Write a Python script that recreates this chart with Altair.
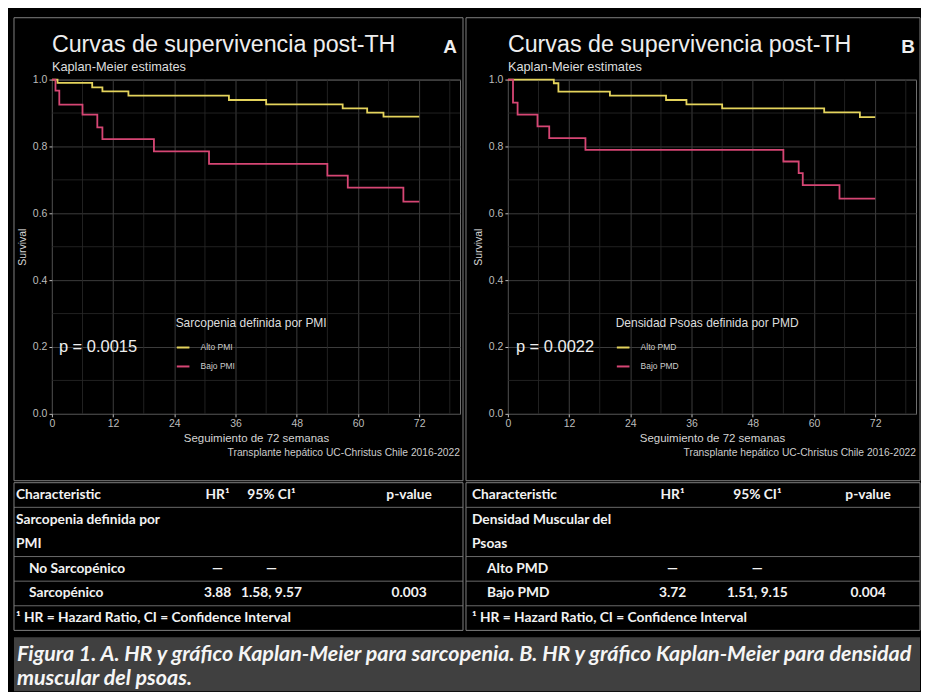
import altair as alt
import pandas as pd

# ---------------- data ----------------
week_ticks = [0, 12, 24, 36, 48, 60, 72]
week_minor = [6, 18, 30, 42, 54, 66, 78]
surv_ticks = [0.0, 0.2, 0.4, 0.6, 0.8, 1.0]
surv_minor = [0.1, 0.3, 0.5, 0.7, 0.9]

# Panel A: sarcopenia (PMI)
a_groups = ["Alto PMI", "Bajo PMI"]
a_alto_t = [0, 1.1, 7.9, 9.9, 15.0, 34.7, 42.0, 57.0, 61.8, 65.0, 72]
a_alto_s = [1.0, 0.990, 0.977, 0.965, 0.952, 0.939, 0.926, 0.914, 0.901, 0.889, 0.889]
a_bajo_t = [0, 0.7, 1.45, 6.0, 8.9, 9.9, 20.0, 30.8, 54.0, 58.0, 68.9, 72]
a_bajo_s = [1.0, 0.967, 0.925, 0.895, 0.857, 0.822, 0.785, 0.748, 0.713, 0.677, 0.635, 0.635]

# Panel B: densidad psoas (PMD)
b_groups = ["Alto PMD", "Bajo PMD"]
b_alto_t = [0, 9.0, 9.9, 20.0, 31.0, 35.0, 42.0, 62.0, 69.0, 72]
b_alto_s = [1.0, 0.989, 0.964, 0.952, 0.939, 0.926, 0.914, 0.902, 0.888, 0.888]
b_bajo_t = [0, 1.0, 1.9, 5.8, 8.1, 15.2, 54.0, 57.0, 57.8, 65.0, 72]
b_bajo_s = [1.0, 0.931, 0.895, 0.860, 0.825, 0.790, 0.755, 0.720, 0.684, 0.644, 0.644]

# tables
table_lines = ["h", "g1", "g2", "r1", "r2", "f"]
tab_a_char = ["Characteristic", "Sarcopenia definida por", "PMI", "No Sarcopénico", "Sarcopénico",
              "¹ HR = Hazard Ratio, CI = Confidence Interval"]
tab_a_hr = ["HR¹", "", "", "—", "3.88", ""]
tab_a_ci = ["95% CI¹", "", "", "—", "1.58, 9.57", ""]
tab_a_p = ["p-value", "", "", "", "0.003", ""]

tab_b_char = ["Characteristic", "Densidad Muscular del", "Psoas", "Alto PMD", "Bajo PMD",
              "¹ HR = Hazard Ratio, CI = Confidence Interval"]
tab_b_hr = ["HR¹", "", "", "—", "3.72", ""]
tab_b_ci = ["95% CI¹", "", "", "—", "1.51, 9.15", ""]
tab_b_p = ["p-value", "", "", "", "0.004", ""]

sep_lines = ["g1", "r1", "r2", "f"]

main_title = "Curvas de supervivencia post-TH"
sub_title = "Kaplan-Meier estimates"
x_title = "Seguimiento de 72 semanas"
y_title = "Survival"
source_note = "Transplante hepático UC-Christus Chile 2016-2022"
caption_text = ("Figura 1. A. HR y gráfico Kaplan-Meier para sarcopenia. B. HR y gráfico Kaplan-Meier para densidad\n"
                "muscular del psoas.")

# ---------------- style ----------------
YEL = "#E4D35C"
RED = "#D64674"
MAJOR = "#3c3c3c"
MINOR = "#2a2a2a"
BORDER = "#808080"
TXT = "#eeeeee"
LAB = "#bdbdbd"
PF = "Liberation Sans"
TF = "Lato"
CAPBG = "#404040"
W, H = 409, 335
TAB_H = 148


def km_frame(groups, t1, s1, t2, s2):
    rows = [{"t": t, "s": s, "g": groups[0]} for t, s in zip(t1, s1)]
    rows += [{"t": t, "s": s, "g": groups[1]} for t, s in zip(t2, s2)]
    return pd.DataFrame(rows)


def one(**kw):
    return pd.DataFrame({k: [v] for k, v in kw.items()})


def plot_panel(km, groups, legend_title, pval, letter, lay):
    xs = alt.Scale(domain=[0, 80], nice=False, zero=False)
    ys = alt.Scale(domain=[0, 1], nice=False)
    x_axis = alt.Axis(values=week_ticks, title=x_title, titleFontSize=11.5,
                      titlePadding=3, labelFlush=False, grid=True)
    y_axis = alt.Axis(values=surv_ticks, format=".1f", title=y_title, titleFontSize=10.5,
                      titlePadding=5, labelFlush=False, grid=True)

    minor_v = alt.Chart(pd.DataFrame({"t": week_minor})).mark_rule(
        color=MINOR, strokeWidth=0.8).encode(x=alt.X("t:Q", scale=xs, axis=x_axis))
    minor_h = alt.Chart(pd.DataFrame({"s": surv_minor})).mark_rule(
        color=MINOR, strokeWidth=0.8).encode(y=alt.Y("s:Q", scale=ys, axis=y_axis))

    curves = alt.Chart(km).mark_line(interpolate="step-after", strokeWidth=1.8).encode(
        x=alt.X("t:Q", scale=xs, axis=x_axis),
        y=alt.Y("s:Q", scale=ys, axis=y_axis),
        color=alt.Color("g:N", scale=alt.Scale(domain=groups, range=[YEL, RED]),
                        legend=alt.Legend(orient="none", legendX=lay["lx"], legendY=239,
                                          title=legend_title, titleFont=PF, titleFontSize=12,
                                          titleFontWeight="normal", titleColor="#dddddd",
                                          titleLimit=400, titlePadding=10,
                                          labelFont=PF, labelFontSize=8.5,
                                          labelColor="#cccccc", labelOffset=10,
                                          symbolType="stroke", symbolSize=160,
                                          symbolStrokeWidth=2, rowPadding=7, padding=0)),
    )

    ptxt = alt.Chart(one(txt=pval)).mark_text(
        align="left", baseline="middle", font=PF, fontSize=16.5, color=TXT).encode(
        x=alt.value(lay["px"]), y=alt.Y(datum=0.2, scale=ys, axis=y_axis), text="txt:N")

    ttl = alt.Chart(one(txt=main_title)).mark_text(
        align="left", baseline="alphabetic", font=PF, fontSize=23.3, color=TXT).encode(
        x=alt.value(0), y=alt.value(-28), text="txt:N")
    sub = alt.Chart(one(txt=sub_title)).mark_text(
        align="left", baseline="alphabetic", font=PF, fontSize=12.8, color="#dddddd").encode(
        x=alt.value(0), y=alt.value(-9), text="txt:N")
    let = alt.Chart(one(txt=letter)).mark_text(
        align="right", baseline="alphabetic", font=PF, fontSize=19, fontWeight="bold", color=TXT).encode(
        x=alt.value(lay["lt"]), y=alt.value(-27), text="txt:N")
    note = alt.Chart(one(txt=source_note)).mark_text(
        align="right", baseline="middle", font=PF, fontSize=10.3, color="#cccccc").encode(
        x=alt.value(W), y=alt.value(374), text="txt:N")
    frame = alt.Chart(one(k=0)).mark_rect(filled=False, stroke=BORDER, strokeWidth=1).encode(
        x=alt.value(lay["bx0"]), x2=alt.value(lay["bx1"]), y=alt.value(-62), y2=alt.value(402))

    return alt.layer(minor_v, minor_h, curves, ptxt, ttl, sub, let, note, frame).properties(
        width=W, height=H)


def table_panel(chars, hrs, cis, ps, lay):
    tab = pd.DataFrame({"line": table_lines, "char": chars, "hr": hrs, "ci": cis, "p": ps})
    tys = alt.Scale(type="band", domain=table_lines, paddingInner=0, paddingOuter=0)
    ty = alt.Y("line:N", scale=tys, axis=None, bandPosition=0.5)
    base = alt.Chart(tab)
    tstyle = dict(font=TF, fontSize=13.8, fontWeight="bold", color="#f2f2f2", baseline="middle")
    t_char = base.transform_filter(
        alt.FieldOneOfPredicate(field="line", oneOf=["h", "g1", "g2", "f"])).mark_text(
        align="left", **tstyle).encode(x=alt.value(lay["c0"]), y=ty, text="char:N")
    t_ind = base.transform_filter(
        alt.FieldOneOfPredicate(field="line", oneOf=["r1", "r2"])).mark_text(
        align="left", **tstyle).encode(x=alt.value(lay["c1"]), y=ty, text="char:N")
    t_hr = base.mark_text(align="center", **tstyle).encode(x=alt.value(lay["chr"]), y=ty, text="hr:N")
    t_ci = base.mark_text(align="center", **tstyle).encode(x=alt.value(lay["cci"]), y=ty, text="ci:N")
    t_p = base.mark_text(align="center", **tstyle).encode(x=alt.value(lay["cp"]), y=ty, text="p:N")
    seps = alt.Chart(pd.DataFrame({"line": sep_lines})).mark_rule(color="#6a6a6a", strokeWidth=1).encode(
        y=alt.Y("line:N", scale=tys, axis=None, bandPosition=0),
        x=alt.value(lay["bx0"]), x2=alt.value(lay["bx1"]))
    frame = alt.Chart(one(k=0)).mark_rect(filled=False, stroke=BORDER, strokeWidth=1).encode(
        x=alt.value(lay["bx0"]), x2=alt.value(lay["bx1"]), y=alt.value(0), y2=alt.value(TAB_H))
    return alt.layer(seps, t_char, t_ind, t_hr, t_ci, t_p, frame).properties(
        width=W, height=TAB_H, view=alt.ViewBackground(strokeWidth=0, stroke="transparent"))


km_a = km_frame(a_groups, a_alto_t, a_alto_s, a_bajo_t, a_bajo_s)
km_b = km_frame(b_groups, b_alto_t, b_alto_s, b_bajo_t, b_bajo_s)

lay_a = dict(lx=124, px=7, lt=406, bx0=-38, bx1=412, c0=-36, c1=-23, chr=166, cci=220, cp=358)
lay_b = dict(lx=108, px=8, lt=408, bx0=-42, bx1=413, c0=-36, c1=-21, chr=165, cci=250, cp=361)

pa = plot_panel(km_a, a_groups, "Sarcopenia definida por PMI", "p = 0.0015", "A", lay_a)
pb = plot_panel(km_b, b_groups, "Densidad Psoas definida por PMD", "p = 0.0022", "B", lay_b)
ta = table_panel(tab_a_char, tab_a_hr, tab_a_ci, tab_a_p, lay_a)
tb = table_panel(tab_b_char, tab_b_hr, tab_b_ci, tab_b_p, lay_b)

row_plots = alt.hconcat(pa, pb, spacing=1).resolve_scale(color="independent")
row_tabs = alt.hconcat(ta, tb, spacing=1)
body = alt.vconcat(row_plots, row_tabs, spacing=0)

CAP_H = 54
cap_bg = alt.Chart(one(k=0)).mark_rect(color=CAPBG).encode(
    x=alt.value(-38), x2=alt.value(870), y=alt.value(0), y2=alt.value(CAP_H))
cap_txt = alt.Chart(one(txt=caption_text)).mark_text(
    align="left", baseline="middle", lineBreak="\n", font=TF, fontStyle="italic", fontWeight="bold",
    fontSize=21.5, lineHeight=24, color="#f5f5f5").encode(
    x=alt.value(-35), y=alt.value(18), text="txt:N")
cap = alt.layer(cap_bg, cap_txt).properties(
    width=W, height=CAP_H, view=alt.ViewBackground(strokeWidth=0, stroke="transparent"))

chart = alt.vconcat(body, cap, spacing=6).properties(
    background="#000000",
    padding={"left": 5, "top": 8, "right": 0, "bottom": 0},
).configure_view(stroke="#6e6e6e", strokeWidth=1).configure_axis(
    labelFont=PF, labelFontSize=10.5, labelColor=LAB, labelPadding=2,
    tickColor=LAB, tickSize=3, domain=False,
    gridColor=MAJOR, gridWidth=1,
    titleFont=PF, titleFontWeight="normal", titleColor="#d4d4d4",
)

chart.save("out.html", embed_options={"renderer": "svg", "actions": False})
